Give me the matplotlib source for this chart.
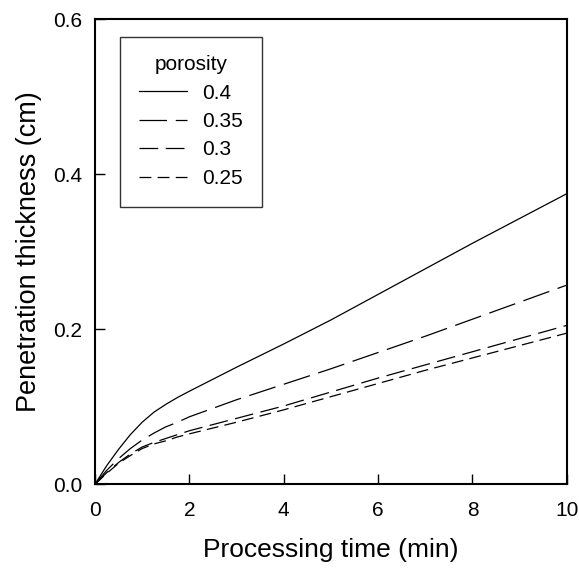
import matplotlib.pyplot as plt

plt.rcParams['font.family'] = ['Liberation Sans', 'DejaVu Sans']

# Processing time (min)
time = [0, 0.25, 0.5, 0.75, 1, 1.25, 1.5, 1.75, 2, 3, 4, 5, 6, 7, 8, 9, 10]

# Penetration thickness (cm) for each porosity
p040 = [0, 0.024, 0.045, 0.064, 0.080, 0.093, 0.103, 0.112, 0.120, 0.151,
        0.181, 0.212, 0.245, 0.278, 0.311, 0.343, 0.375]
p035 = [0, 0.018, 0.033, 0.046, 0.057, 0.066, 0.074, 0.080, 0.087, 0.109,
        0.129, 0.149, 0.170, 0.191, 0.213, 0.235, 0.257]
p030 = [0, 0.015, 0.028, 0.039, 0.048, 0.054, 0.059, 0.064, 0.069, 0.085,
        0.101, 0.119, 0.137, 0.154, 0.171, 0.188, 0.205]
p025 = [0, 0.014, 0.027, 0.037, 0.046, 0.052, 0.056, 0.061, 0.065, 0.080,
        0.096, 0.113, 0.130, 0.147, 0.163, 0.179, 0.195]

labels = ['0.4', '0.35', '0.3', '0.25']

fig = plt.figure(figsize=(5.79, 5.69), dpi=100)
ax = fig.add_axes([0.164, 0.149, 0.815, 0.817])

ax.plot(time, p040, color='black', lw=0.9, label=labels[0])
ax.plot(time, p035, color='black', lw=0.9, dashes=(22, 7), label=labels[1])
ax.plot(time, p030, color='black', lw=0.9, dashes=(15, 6), label=labels[2])
ax.plot(time, p025, color='black', lw=0.9, dashes=(9.5, 5), label=labels[3])

ax.set_xlim(0, 10)
ax.set_ylim(0, 0.6)
ax.set_xticks([0, 2, 4, 6, 8, 10])
ax.set_yticks([0.0, 0.2, 0.4, 0.6])
ax.set_xticklabels(['0', '2', '4', '6', '8', '10'])
ax.set_yticklabels(['0.0', '0.2', '0.4', '0.6'])
ax.tick_params(direction='in', length=7, width=1, labelsize=15)
ax.tick_params(axis='x', pad=12)
ax.tick_params(axis='y', pad=9)

for s in ax.spines.values():
    s.set_linewidth(1.5)

ax.set_xlabel('Processing time (min)', fontsize=19, labelpad=13)
ax.set_ylabel('Penetration thickness (cm)', fontsize=19.5, labelpad=8)

leg = ax.legend(title='porosity', loc='upper left', bbox_to_anchor=(0.053, 0.963),
                borderaxespad=0, fontsize=15, title_fontsize=15, frameon=True,
                fancybox=False, edgecolor='black', handlelength=2.3,
                borderpad=0.9, labelspacing=0.45, handletextpad=0.75)
leg.get_frame().set_linewidth(1.0)

plt.savefig('out.png', dpi=100)
